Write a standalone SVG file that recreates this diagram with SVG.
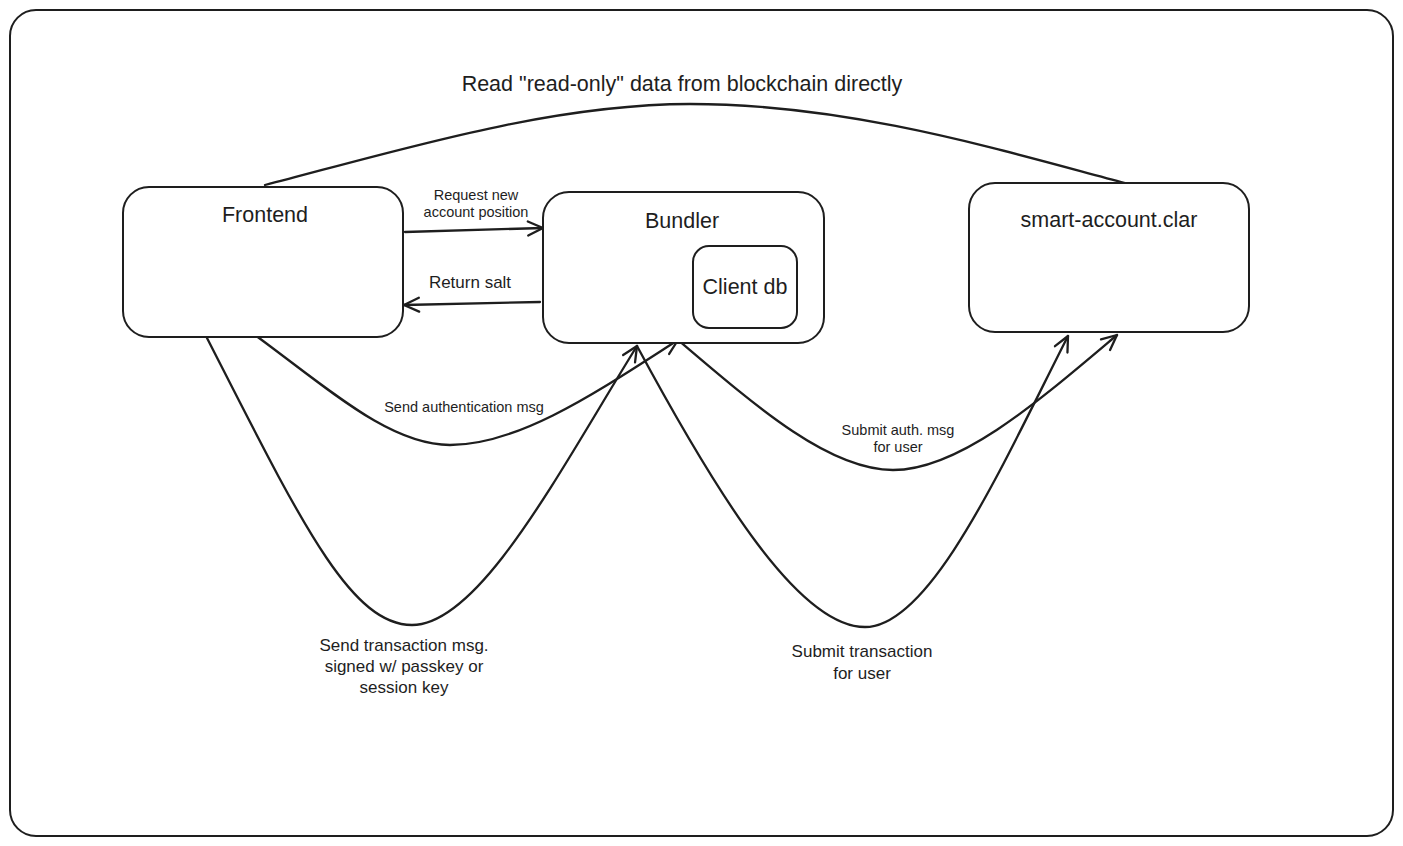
<svg xmlns="http://www.w3.org/2000/svg" width="1403" height="846" viewBox="0 0 1403 846">
<style>
.box{fill:#fff;stroke:#1e1e1e;stroke-width:2}
.ln{fill:none;stroke:#1e1e1e;stroke-width:2.3;stroke-linecap:round}
.t{font-family:"Liberation Sans",Arial,sans-serif;fill:#1e1e1e;text-anchor:middle}
.t22{font-size:21.5px}
.t17{font-size:17px}
.t14{font-size:14.5px}
</style>
<defs>
<marker id="ah" markerUnits="userSpaceOnUse" markerWidth="30" markerHeight="30" viewBox="-20 -15 30 30" refX="0" refY="0" orient="auto">
<path d="M-15,-7 L0,0 L-15,7" fill="none" stroke="#1e1e1e" stroke-width="2.3" stroke-linecap="round" stroke-linejoin="round"/>
</marker>
</defs>
<rect x="0" y="0" width="1403" height="846" fill="#fff"/>
<g id="frame"><rect x="10" y="10" width="1383" height="826" rx="26" class="box"/></g>
<g id="connectors">
<path class="ln" d="M265,185 C 400,150 550,104 690,104 C 850,104 1000,150 1125,183"/>
<path class="ln" marker-end="url(#ah)" d="M405,232 L543,228"/>
<path class="ln" marker-end="url(#ah)" d="M540,302 L404,305"/>
<path class="ln" marker-end="url(#ah)" d="M255,335 C 330,390 390,445 450,445 C 520,445 600,390 678,340"/>
<path class="ln" marker-end="url(#ah)" d="M207,338 C 300,520 350,625 412,625 C 480,625 560,470 637,346"/>
<path class="ln" marker-end="url(#ah)" d="M637,346 C 720,500 800,627 865,627 C 930,627 1000,470 1068,336"/>
<path class="ln" marker-end="url(#ah)" d="M678,340 C 760,410 830,470 893,470 C 960,470 1040,400 1117,335"/>
</g>
<g id="frontend">
<rect x="123" y="187" width="280" height="150" rx="26" class="box"/>
<text x="265" y="222" class="t t22">Frontend</text>
</g>
<g id="bundler">
<rect x="543" y="192" width="281" height="151" rx="26" class="box"/>
<text x="682" y="228" class="t t22">Bundler</text>
</g>
<g id="clientdb">
<rect x="693" y="246" width="104" height="82" rx="16" class="box"/>
<text x="745" y="294" class="t t22">Client db</text>
</g>
<g id="smartaccount">
<rect x="969" y="183" width="280" height="149" rx="26" class="box"/>
<text x="1109" y="227" class="t t22">smart-account.clar</text>
</g>
<g id="labels">
<text x="682" y="91" class="t t22">Read "read-only" data from blockchain directly</text>
<text x="476" y="200" class="t t14">Request new</text>
<text x="476" y="217" class="t t14">account position</text>
<text x="470" y="288" class="t t17">Return salt</text>
<text x="464" y="412" class="t t14">Send authentication msg</text>
<text x="898" y="435" class="t t14">Submit auth. msg</text>
<text x="898" y="452" class="t t14">for user</text>
<text x="404" y="651" class="t t17">Send transaction msg.</text>
<text x="404" y="672" class="t t17">signed w/ passkey or</text>
<text x="404" y="693" class="t t17">session key</text>
<text x="862" y="657" class="t t17">Submit transaction</text>
<text x="862" y="679" class="t t17">for user</text>
</g>
</svg>
